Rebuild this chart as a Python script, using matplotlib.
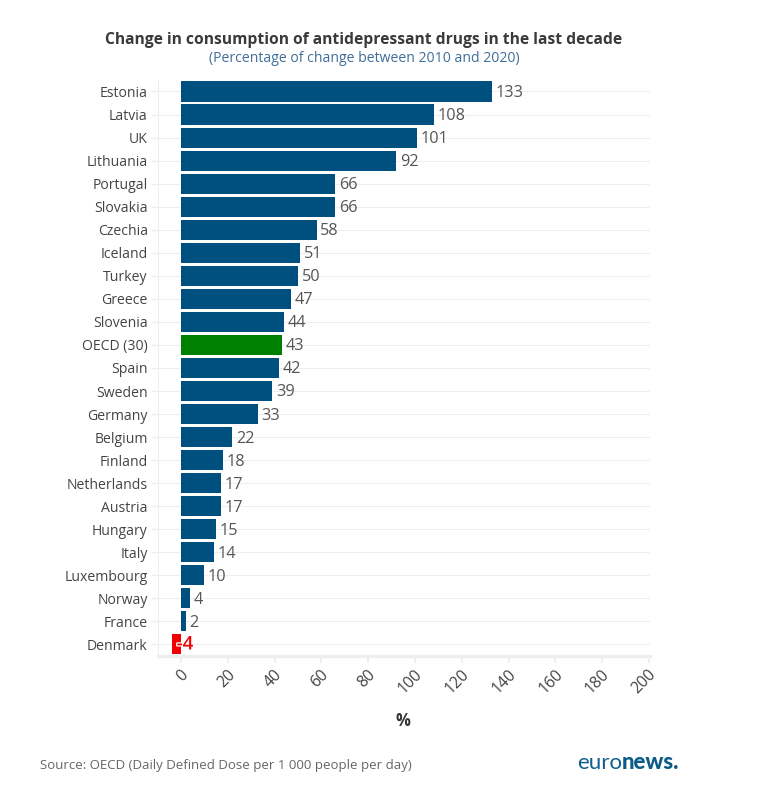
import matplotlib
matplotlib.use("Agg")
import matplotlib.pyplot as plt
import matplotlib.patheffects as pe
from matplotlib.transforms import ScaledTranslation

countries = ["Estonia", "Latvia", "UK", "Lithuania", "Portugal", "Slovakia", "Czechia", "Iceland",
             "Turkey", "Greece", "Slovenia", "OECD (30)", "Spain", "Sweden", "Germany", "Belgium",
             "Finland", "Netherlands", "Austria", "Hungary", "Italy", "Luxembourg", "Norway",
             "France", "Denmark"]
values = [133, 108, 101, 92, 66, 66, 58, 51, 50, 47, 44, 43, 42, 39, 33, 22, 18, 17, 17, 15, 14, 10, 4, 2, -4]
xticks = list(range(0, 201, 20))

BLUE = "#00507f"
GREEN = "#008000"
RED = "#f00000"
GRID = "#eeeeee"
TXT = "#444444"
plt.rcParams["font.family"] = ["Open Sans", "DejaVu Sans"]

W, H = 757, 804
fig = plt.figure(figsize=(W / 100, H / 100), dpi=100, facecolor="white")
L, R, T, B = 157.5, 650, 80.5, 656.5
ax = fig.add_axes([L / W, 1 - B / H, (R - L) / W, (B - T) / H])
ax.set_xlim((L - 181) / 2.34, (R - 181) / 2.34)
ax.set_ylim(24.48, -0.52)

colors = [GREEN if c.startswith("OECD") else RED if v < 0 else BLUE for c, v in zip(countries, values)]
ax.barh(range(len(values)), values, height=0.87, color=colors, zorder=3)

for i, v in enumerate(values):
    if v < 0:
        ax.text(1.7, i, str(v), ha="center", va="center", fontsize=13.5, color=RED, zorder=5,
                fontweight="semibold",
                path_effects=[pe.withStroke(linewidth=1.8, foreground="white")])
    else:
        ax.text(v + 1.5, i + 0.02, str(v), ha="left", va="center", fontsize=11.7, color="#555555", zorder=5)

ax.set_yticks(range(len(countries)))
ax.set_yticklabels(countries, fontsize=10.1, color=TXT)
ax.set_xticks(xticks)
ax.set_xticklabels(xticks, fontsize=11.3, color=TXT, rotation=45, ha="right", va="center",
                   rotation_mode="anchor")
ax.tick_params(axis="y", length=5, width=1, color=GRID, pad=2)
ax.tick_params(axis="x", length=5, width=1.5, color=GRID, pad=6.5)
shift = ScaledTranslation(5 / 100, 0, fig.dpi_scale_trans)
for lab in ax.get_xticklabels():
    lab.set_transform(lab.get_transform() + shift)
yshift = ScaledTranslation(0, 1 / 100, fig.dpi_scale_trans)
for lab in ax.get_yticklabels():
    lab.set_transform(lab.get_transform() + yshift)
ax.grid(axis="y", color=GRID, linewidth=0.8, zorder=0)
ax.set_axisbelow(True)
for s in ["top", "right"]:
    ax.spines[s].set_visible(False)
ax.spines["left"].set_color(GRID)
ax.spines["left"].set_linewidth(0.8)
ax.spines["bottom"].set_color(GRID)
ax.spines["bottom"].set_linewidth(2.5)

def px(x, y, s, **kw):
    return fig.text(x / W, 1 - y / H, s, **kw)

px(364, 39.5, "Change in consumption of antidepressant drugs in the last decade", ha="center", va="center",
   fontsize=11.25, fontweight="bold", color="#3a3a3a")
px(364, 58, "(Percentage of change between 2010 and 2020)", ha="center", va="center",
   fontsize=10.05, color="#3f6e9a")
px(403, 721, "%", ha="center", va="center", fontsize=12, fontweight="bold", color="#333333")
px(40, 766, "Source: OECD (Daily Defined Dose per 1 000 people per day)", ha="left", va="center",
   fontsize=9.55, color="#666666")
t1 = px(577, 763, "euro", ha="left", va="center", fontsize=16, color="#0f5f8c", fontweight="normal",
        family=["Lato", "DejaVu Sans"])
fig.canvas.draw()
x1 = t1.get_window_extent().x1
px(x1, 763, "news.", ha="left", va="center", fontsize=16, color="#0b5a87", fontweight="black",
   family=["Lato", "DejaVu Sans"])

fig.savefig("out.png", dpi=100, facecolor="white")
